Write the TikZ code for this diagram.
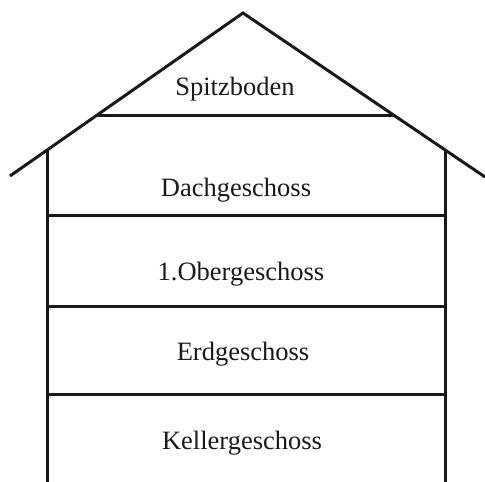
\documentclass[tikz,border=0pt]{standalone}
\usepackage{fontspec}
\setmainfont{Liberation Serif}
\usetikzlibrary{positioning,calc}

\begin{document}
\begin{tikzpicture}[
    x=0.5pt, y=0.5pt,
    line/.style={draw, line width=1.5pt, black!90},
    floorlabel/.style={anchor=base, inner sep=0pt, font=\fontsize{13.25}{15}\selectfont, text=black!90}
]
\useasboundingbox (0,0) rectangle (485,481);

% roof
\coordinate (apex) at (243,468);
\coordinate (eaveL) at (10,305);
\coordinate (eaveR) at (485,304);
\coordinate (atticL) at (96,365);
\coordinate (atticR) at (395,365);
\coordinate (wallLtop) at (47,331);
\coordinate (wallRtop) at (445,331);
\coordinate (wallLbot) at (47,-5);
\coordinate (wallRbot) at (445,-5);

\draw[line] (eaveL) -- (apex) -- (eaveR);
\draw[line] (atticL) -- (atticR);
\draw[line] (wallLtop) -- (wallLbot);
\draw[line] (wallRtop) -- (wallRbot);

% floors
\foreach \y/\name in {265/dg, 174/og, 87/eg} {
    \draw[line] (47,\y) coordinate (\name L) -- (445,\y) coordinate (\name R);
}

% labels
\node[floorlabel] (spitz) at (235,385) {Spitzboden};
\node[floorlabel] (dach) at (236,284) {Dachgeschoss};
\node[floorlabel] (ober) at (241,200) {1.Obergeschoss};
\node[floorlabel] (erd) at (243,121) {Erdgeschoss};
\node[floorlabel] (keller) at (242,32) {Kellergeschoss};
\end{tikzpicture}
\end{document}
